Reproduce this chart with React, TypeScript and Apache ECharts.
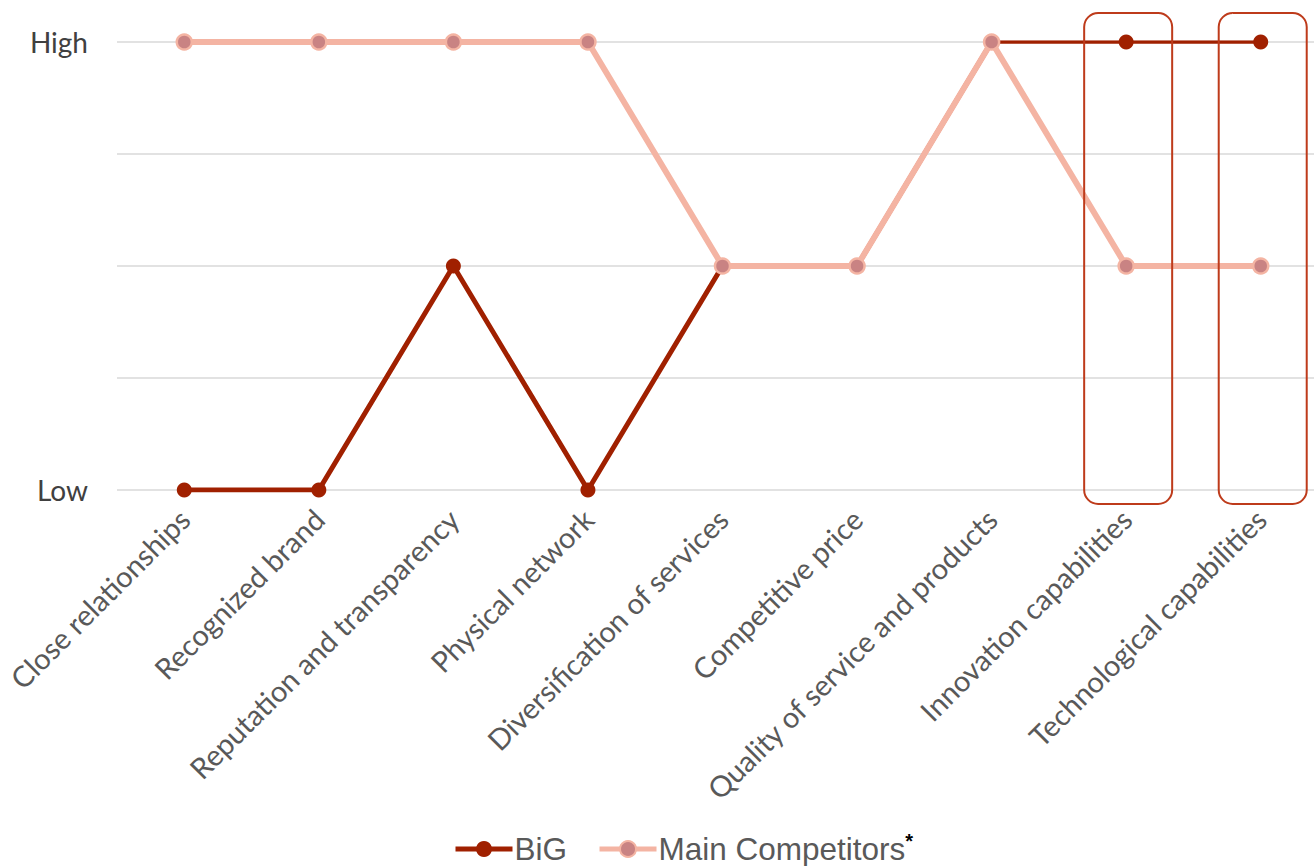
import React, { useEffect, useRef } from "react";
import * as echarts from "echarts";

const categories = [
  "Close relationships",
  "Recognized brand",
  "Reputation and transparency",
  "Physical network",
  "Diversification of services",
  "Competitive price",
  "Quality of service and products",
  "Innovation capabilities",
  "Technological capabilities",
];
// 1 = Low, 5 = High
const bigValues = [1, 1, 3, 1, 3, 3, 5, null, null];
const bigValuesRight = [null, null, null, null, null, null, 5, 5, 5];
const competitorValues = [5, 5, 5, 5, 3, 3, 5, 3, 3];
const yTickLabels: Record<number, string> = { 1: "Low", 5: "High" };
const highlighted = ["Innovation capabilities", "Technological capabilities"];

const BIG = "#A02000";
const COMP_LINE = "#F4B4A3";
const COMP_DOT = "#C98383";
const FRAME = "#BE3B1B";

export default function App() {
  const ref = useRef<HTMLDivElement>(null);
  useEffect(() => {
    if (!ref.current) return;
    const chart = echarts.init(ref.current, undefined, { renderer: "svg" });
    chart.setOption({
      animation: false,
      grid: { left: 117, right: 2, top: 42, bottom: 376, containLabel: false },
      legend: {
        bottom: -4,
        left: 448,
        itemWidth: 57,
        itemHeight: 20,
        itemGap: 30,
        data: ["BiG", "Main Competitors"],
        lineStyle: { width: 5 },
        formatter: (n: string) => (n === "Main Competitors" ? "Main Competitors{sup|*}" : n),
        textStyle: {
          fontFamily: "Liberation Sans, Arial, sans-serif",
          fontSize: 31.5,
          color: "#595959",
          padding: [0, 0, 0, -3],
          rich: {
            sup: { fontSize: 20, color: "#000", fontWeight: "bold", verticalAlign: "top", padding: [0, 0, 16, 0] },
          },
        },
      },
      xAxis: {
        type: "category",
        data: categories,
        boundaryGap: true,
        axisLine: { show: false },
        axisTick: { show: false },
        axisLabel: {
          rotate: 45,
          interval: 0,
          margin: 24,
          fontFamily: "Lato, sans-serif",
          fontSize: 29,
          color: "#595959",
        },
        splitLine: { show: false },
      },
      yAxis: {
        type: "value",
        min: 1,
        max: 5,
        interval: 1,
        axisLine: { show: false },
        axisTick: { show: false },
        axisLabel: {
          margin: 29,
          fontFamily: "Lato, sans-serif",
          fontSize: 28,
          color: "#404040",
          formatter: (v: number) => yTickLabels[v] ?? "",
        },
        splitLine: { lineStyle: { color: "#D9D9D9", width: 1.5 } },
      },
      series: [
        {
          name: "BiG",
          type: "line",
          data: bigValues,
          symbol: "circle",
          symbolSize: 15,
          lineStyle: { color: BIG, width: 5 },
          itemStyle: { color: BIG },
          z: 2,
        },
        {
          name: "BiG",
          type: "line",
          data: bigValuesRight,
          symbol: "circle",
          symbolSize: 15,
          lineStyle: { color: BIG, width: 3.5 },
          itemStyle: { color: BIG },
          z: 2,
        },
        {
          name: "Main Competitors",
          type: "line",
          data: competitorValues,
          symbol: "circle",
          symbolSize: 15,
          lineStyle: { color: COMP_LINE, width: 6 },
          itemStyle: { color: COMP_DOT, borderColor: COMP_LINE, borderWidth: 2.5 },
          z: 3,
        },
      ],
    });
    const rects = highlighted.map((c) => {
      const [cx, yHigh] = chart.convertToPixel({ gridIndex: 0 }, [c, 5]) as number[];
      const [, yLow] = chart.convertToPixel({ gridIndex: 0 }, [c, 1]) as number[];
      const top = yHigh - 29;
      const bottom = yLow + 14;
      return {
        type: "rect",
        shape: { x: cx - 42, y: top, width: 88, height: bottom - top, r: 14 },
        style: { fill: "none", stroke: FRAME, lineWidth: 2 },
        z: 10,
      };
    });
    chart.setOption({ graphic: rects });
    return () => chart.dispose();
  }, []);
  return (
    <div style={{ position: "absolute", left: 0, top: 0, width: 1314, height: 866, overflow: "hidden" }}>
      <div ref={ref} style={{ width: 1330, height: 866 }} />
    </div>
  );
}
